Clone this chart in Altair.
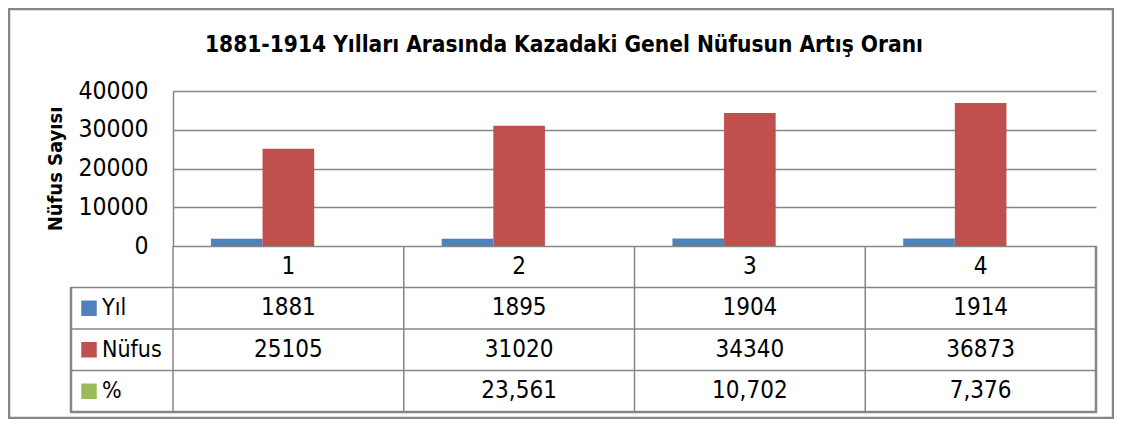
import altair as alt
import pandas as pd

# ---- data ----
categories = ["1", "2", "3", "4"]
years = [1881, 1895, 1904, 1914]
population = [25105, 31020, 34340, 36873]
percent = [None, 23.561, 10.702, 7.376]
percent_labels = ["", "23,561", "10,702", "7,376"]
series = ["Yıl", "Nüfus", "%"]
colors = ["#4F81BD", "#C0504D", "#9BBB59"]
y_ticks = [0, 10000, 20000, 30000, 40000]
table_rows_order = ["header", "Yıl", "Nüfus", "%"]
title_text = "1881-1914 Yılları  Arasında Kazadaki Genel  Nüfusun Artış Oranı"
y_title = "Nüfus Sayısı"

# ---- styling ----
W, H = 923, 155
FONT = "DejaVu Sans Condensed"
GRID = "#868686"
TXT = "#000000"

# ---- tables built from the lists ----
bar_records = []
for i, c in enumerate(categories):
    for s, vals in zip(series, [years, population, percent]):
        if vals[i] is not None:
            bar_records.append({"cat": c, "series": s, "value": vals[i]})
bars_df = pd.DataFrame(bar_records)

cell_records = []
for i, c in enumerate(categories):
    cell_records.append({"cat": c, "row": "header", "label": c})
    cell_records.append({"cat": c, "row": "Yıl", "label": str(years[i])})
    cell_records.append({"cat": c, "row": "Nüfus", "label": str(population[i])})
    cell_records.append({"cat": c, "row": "%", "label": percent_labels[i]})
cells_df = pd.DataFrame(cell_records)

legend_df = pd.DataFrame({"row": series, "series": series})
vlines_df = pd.DataFrame({"cat": categories})
last_df = pd.DataFrame({"cat": [categories[-1]]})
hlines_df = pd.DataFrame({"row": series})
bottom_df = pd.DataFrame({"row": [series[-1]]})
one = pd.DataFrame({"k": [0]})

x_scale = alt.Scale(domain=categories, paddingInner=0, paddingOuter=0)
color_scale = alt.Scale(domain=series, range=colors)
row_scale = alt.Scale(domain=table_rows_order, range=[155, 321], paddingInner=0, paddingOuter=0)

bars = alt.Chart(bars_df).mark_bar().encode(
    x=alt.X("cat:N", scale=x_scale, axis=None),
    xOffset=alt.XOffset("series:N", scale=alt.Scale(domain=series, paddingInner=0, paddingOuter=0.735)),
    y=alt.Y(
        "value:Q",
        scale=alt.Scale(domain=[0, 40000], nice=False),
        axis=alt.Axis(
            values=y_ticks, format="d", grid=True, gridColor=GRID, gridWidth=1.5,
            domain=True, domainColor=GRID, domainWidth=1.5, ticks=False,
            labelFont=FONT, labelFontSize=24.5, labelColor=TXT, labelPadding=25,
            title=y_title, titleFont=FONT, titleFontSize=20, titleFontWeight="bold",
            titleColor=TXT, titlePadding=12,
        ),
    ),
    color=alt.Color("series:N", scale=color_scale, legend=None),
)

cells = alt.Chart(cells_df).mark_text(font=FONT, fontSize=24, color=TXT, baseline="middle").encode(
    x=alt.X("cat:N", scale=x_scale, axis=None),
    y=alt.Y("row:N", scale=row_scale, axis=None),
    text="label:N",
)

legend_keys = alt.Chart(legend_df).mark_square(size=240, opacity=1).encode(
    x=alt.value(-84),
    y=alt.Y("row:N", scale=row_scale, axis=None),
    color=alt.Color("series:N", scale=color_scale, legend=None),
)
legend_text = alt.Chart(legend_df).mark_text(font=FONT, fontSize=23, color=TXT, align="left", baseline="middle").encode(
    x=alt.value(-71),
    y=alt.Y("row:N", scale=row_scale, axis=None),
    text="series:N",
)

vlines = alt.Chart(vlines_df).mark_rule(color=GRID, strokeWidth=1.5).encode(
    x=alt.X("cat:N", scale=x_scale, axis=None, bandPosition=0),
    y=alt.value(155), y2=alt.value(321),
)
vlast = alt.Chart(last_df).mark_rule(color=GRID, strokeWidth=2.5).encode(
    x=alt.X("cat:N", scale=x_scale, axis=None, bandPosition=1),
    y=alt.value(155), y2=alt.value(322),
)
vleft = alt.Chart(one).mark_rule(color=GRID, strokeWidth=2.5).encode(
    x=alt.value(-102), y=alt.value(196), y2=alt.value(322),
)
hlines = alt.Chart(hlines_df).mark_rule(color=GRID, strokeWidth=1.5).encode(
    y=alt.Y("row:N", scale=row_scale, axis=None, bandPosition=0),
    x=alt.value(-102), x2=alt.value(W),
)
hbottom = alt.Chart(bottom_df).mark_rule(color=GRID, strokeWidth=2.5).encode(
    y=alt.Y("row:N", scale=row_scale, axis=None, bandPosition=1),
    x=alt.value(-102), x2=alt.value(W + 1),
)

title = alt.Chart(one).mark_text(
    text=title_text, font=FONT, fontSize=22.5, fontWeight="bold", color=TXT,
    align="center", baseline="middle",
).encode(x=alt.value(391), y=alt.value(-46))

frame = alt.Chart(one).mark_rect(fill=None, stroke=GRID, strokeWidth=2.5, fillOpacity=0).encode(
    x=alt.value(-164), x2=alt.value(940), y=alt.value(-82), y2=alt.value(327),
)

chart = alt.layer(
    frame, bars, vlines, vlast, vleft, hlines, hbottom, cells, legend_keys, legend_text, title
).resolve_scale(y="independent").properties(
    width=W, height=H,
    autosize=alt.AutoSizeParams(type="none"),
    padding={"left": 165, "top": 83, "right": 18, "bottom": 173},
).configure_view(stroke=None)

chart.save("out.html", embed_options={"renderer": "svg", "actions": False})
